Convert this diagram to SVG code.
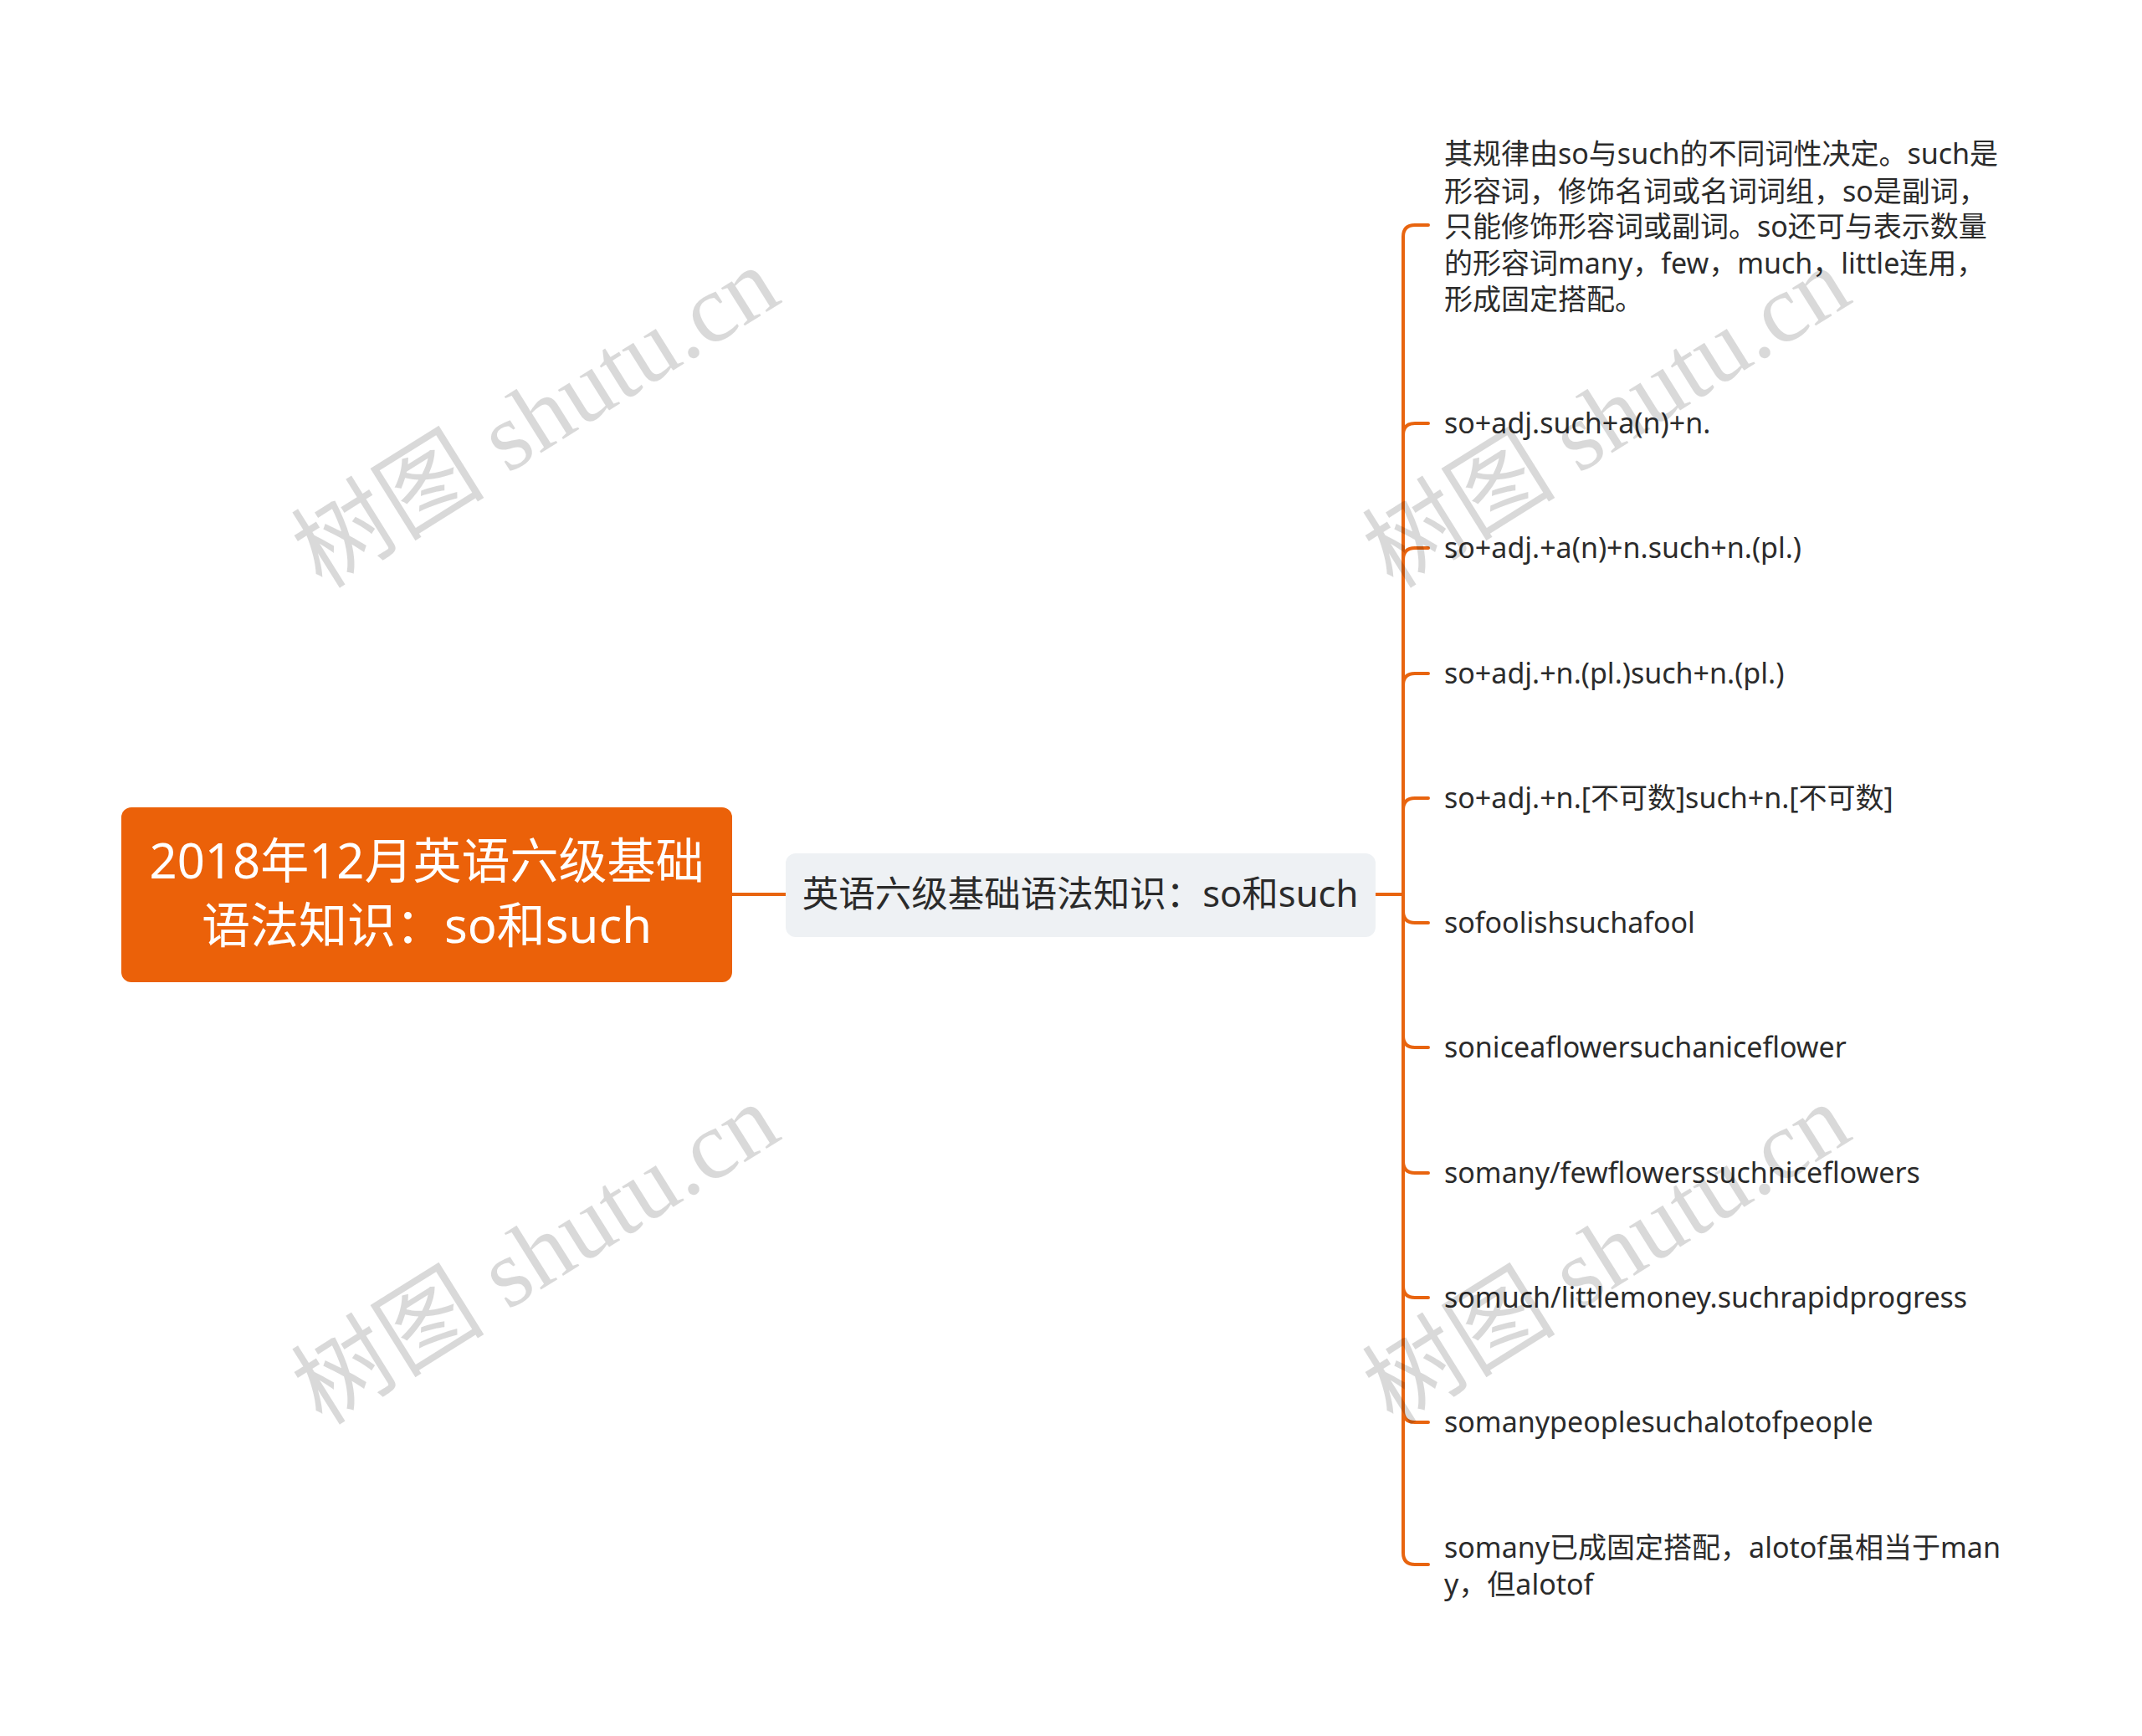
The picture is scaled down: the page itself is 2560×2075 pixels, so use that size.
<svg xmlns="http://www.w3.org/2000/svg" width="2560" height="2075" viewBox="0 0 2560 2075">
<style>
.root-box{fill:#EB6109;}
.root-text{font-family:"Noto Sans","Noto Sans CJK SC",sans-serif;font-size:58px;fill:#ffffff;text-anchor:middle;}
.mid-box{fill:#EEF1F4;}
.mid-text{font-family:"Noto Sans","Noto Sans CJK SC",sans-serif;font-size:43.5px;fill:#2b2b2b;text-anchor:middle;}
.leaf-text{font-family:"Noto Sans","Noto Sans CJK SC",sans-serif;font-size:34px;fill:#2b2b2b;}
.conn{fill:none;stroke:#E8640F;stroke-width:4;stroke-linecap:round;}
.wm{font-family:"Liberation Serif","Noto Sans CJK SC",serif;font-size:116px;fill:#000000;fill-opacity:0.15;}
</style>
<rect width="2560" height="2075" fill="#ffffff"/>
<g id="connectors">
<path class="conn" d="M875,1069 H939"/>
<path class="conn" d="M1644,1069 H1677"/>
<path class="conn" d="M1677,1069 V283 Q1677,269 1691,269 H1707"/>
<path class="conn" d="M1677,1069 V520 Q1677,506 1691,506 H1707"/>
<path class="conn" d="M1677,1069 V669 Q1677,655 1691,655 H1707"/>
<path class="conn" d="M1677,1069 V819 Q1677,805 1691,805 H1707"/>
<path class="conn" d="M1677,1069 V968 Q1677,954 1691,954 H1707"/>
<path class="conn" d="M1677,1069 V1089 Q1677,1103 1691,1103 H1707"/>
<path class="conn" d="M1677,1069 V1238 Q1677,1252 1691,1252 H1707"/>
<path class="conn" d="M1677,1069 V1388 Q1677,1402 1691,1402 H1707"/>
<path class="conn" d="M1677,1069 V1537 Q1677,1551 1691,1551 H1707"/>
<path class="conn" d="M1677,1069 V1686 Q1677,1700 1691,1700 H1707"/>
<path class="conn" d="M1677,1069 V1856 Q1677,1870 1691,1870 H1707"/>
</g>
<g id="root">
<rect class="root-box" x="145" y="965" width="730" height="209" rx="12"/>
<text class="root-text" x="510" y="1050">2018年12月英语六级基础</text>
<text class="root-text" x="510" y="1127">语法知识：so和such</text>
</g>
<g id="middle">
<rect class="mid-box" x="939" y="1020" width="705" height="100" rx="12"/>
<text class="mid-text" x="1291" y="1084">英语六级基础语法知识：so和such</text>
</g>
<g id="leaf1">
<text class="leaf-text" x="1726" y="196">其规律由so与such的不同词性决定。such是</text>
<text class="leaf-text" x="1726" y="241">形容词，修饰名词或名词词组，so是副词，</text>
<text class="leaf-text" x="1726" y="283">只能修饰形容词或副词。so还可与表示数量</text>
<text class="leaf-text" x="1726" y="327">的形容词many，few，much，little连用，</text>
<text class="leaf-text" x="1726" y="370">形成固定搭配。</text>
</g>
<g id="leaf2"><text class="leaf-text" x="1726" y="518">so+adj.such+a(n)+n.</text></g>
<g id="leaf3"><text class="leaf-text" x="1726" y="667">so+adj.+a(n)+n.such+n.(pl.)</text></g>
<g id="leaf4"><text class="leaf-text" x="1726" y="817">so+adj.+n.(pl.)such+n.(pl.)</text></g>
<g id="leaf5"><text class="leaf-text" x="1726" y="966">so+adj.+n.[不可数]such+n.[不可数]</text></g>
<g id="leaf6"><text class="leaf-text" x="1726" y="1115">sofoolishsuchafool</text></g>
<g id="leaf7"><text class="leaf-text" x="1726" y="1264">soniceaflowersuchaniceflower</text></g>
<g id="leaf8"><text class="leaf-text" x="1726" y="1414">somany/fewflowerssuchniceflowers</text></g>
<g id="leaf9"><text class="leaf-text" x="1726" y="1563">somuch/littlemoney.suchrapidprogress</text></g>
<g id="leaf10"><text class="leaf-text" x="1726" y="1712">somanypeoplesuchalotofpeople</text></g>
<g id="leaf11">
<text class="leaf-text" x="1726" y="1862">somany已成固定搭配，alotof虽相当于man</text>
<text class="leaf-text" x="1726" y="1906">y，但alotof</text>
</g>
<g id="watermarks">
<text class="wm" transform="translate(385,705) rotate(-32)">树图 shutu.cn</text>
<text class="wm" transform="translate(1665,705) rotate(-32)">树图 shutu.cn</text>
<text class="wm" transform="translate(385,1705) rotate(-32)">树图 shutu.cn</text>
<text class="wm" transform="translate(1665,1705) rotate(-32)">树图 shutu.cn</text>
</g>
</svg>
